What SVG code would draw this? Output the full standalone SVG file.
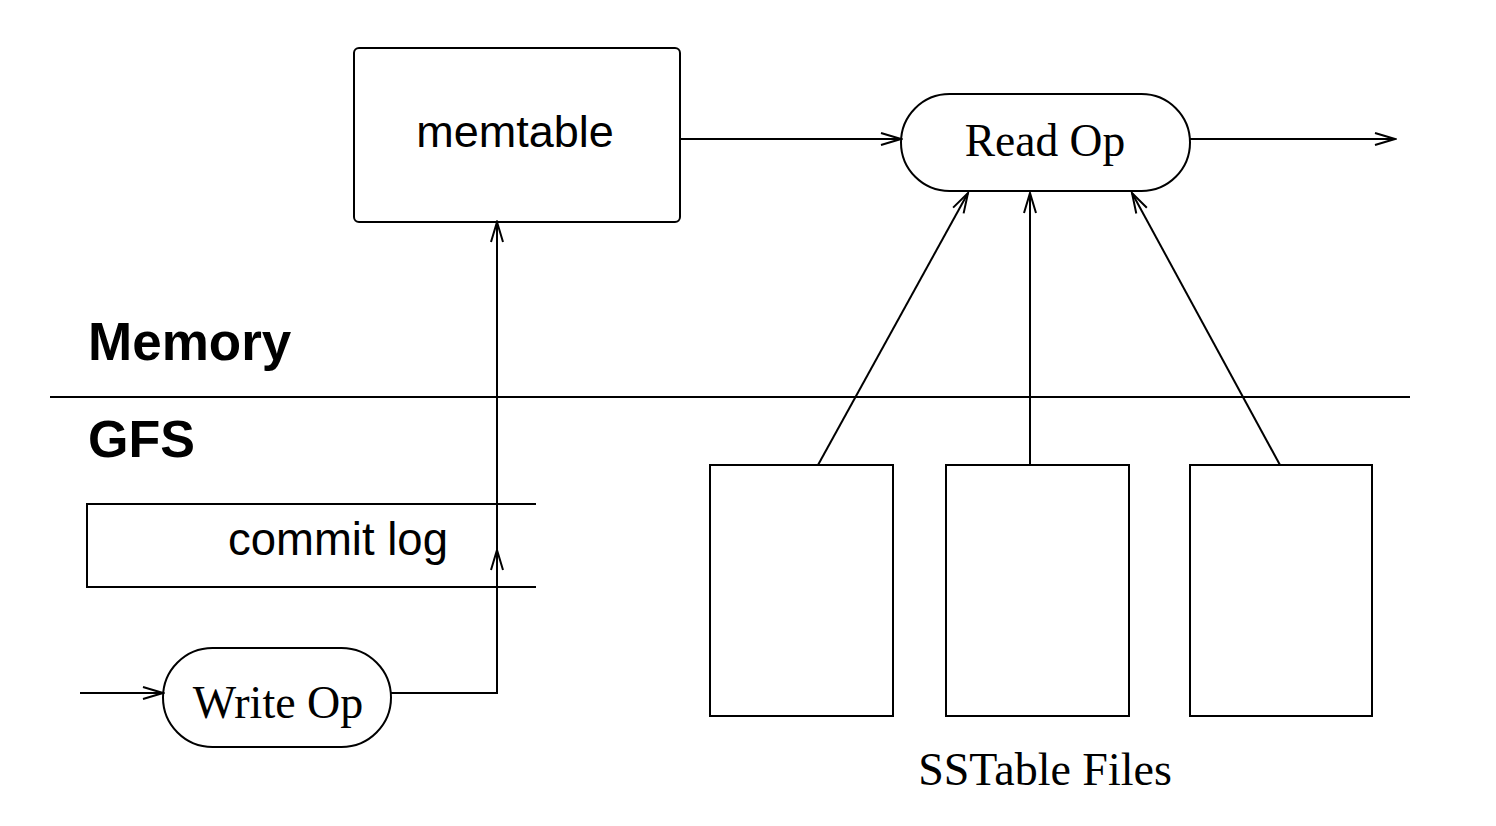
<svg xmlns="http://www.w3.org/2000/svg" width="1496" height="826" viewBox="0 0 1496 826">
<style>
.s{fill:none;stroke:#000;stroke-width:2}
.sans{font-family:"Liberation Sans",Arial,sans-serif;fill:#000}
.serif{font-family:"Liberation Serif","Times New Roman",serif;fill:#000}
</style>
<defs>
<marker id="ah" markerWidth="24" markerHeight="16" refX="22" refY="8" orient="auto" markerUnits="userSpaceOnUse">
<path d="M2,2 L22,8 L2,14" fill="none" stroke="#000" stroke-width="2"/>
</marker>
</defs>
<rect width="1496" height="826" fill="#fff"/>
<g id="memtable"><rect class="s" x="354" y="48" width="326" height="174" rx="5"/><text class="sans" x="515" y="147" font-size="45" text-anchor="middle">memtable</text></g>
<g id="readop"><rect class="s" x="901" y="94" width="289" height="97" rx="48.5"/><text class="serif" x="1045" y="156" font-size="45.5" text-anchor="middle">Read Op</text></g>
<g id="memory-label"><text class="sans" x="88" y="360" font-size="53" font-weight="bold">Memory</text></g>
<g id="gfs-label"><text class="sans" x="88" y="457" font-size="52" font-weight="bold">GFS</text></g>
<g id="divider"><line class="s" x1="50" y1="397" x2="1410" y2="397"/></g>
<g id="commitlog"><path class="s" d="M536,504 H87 V587 H536"/><text class="sans" x="228" y="555" font-size="45.5">commit log</text></g>
<g id="writeop"><rect class="s" x="163" y="648" width="228" height="99" rx="49.5"/><text class="serif" x="278" y="718" font-size="46" text-anchor="middle">Write Op</text></g>
<g id="sstables">
<rect class="s" x="710" y="465" width="183" height="251"/>
<rect class="s" x="946" y="465" width="183" height="251"/>
<rect class="s" x="1190" y="465" width="182" height="251"/>
<text class="serif" x="1045" y="785" font-size="46" text-anchor="middle">SSTable Files</text>
</g>
<g id="connectors">
<line class="s" x1="680" y1="139" x2="901" y2="139" marker-end="url(#ah)"/>
<line class="s" x1="1190" y1="139" x2="1395" y2="139" marker-end="url(#ah)"/>
<line class="s" x1="80" y1="693" x2="163" y2="693" marker-end="url(#ah)"/>
<path class="s" d="M391,693 H497 V550" marker-end="url(#ah)"/>
<line class="s" x1="497" y1="550" x2="497" y2="222" marker-end="url(#ah)"/>
<line class="s" x1="818" y1="465" x2="968" y2="193" marker-end="url(#ah)"/>
<line class="s" x1="1030" y1="465" x2="1030" y2="193" marker-end="url(#ah)"/>
<line class="s" x1="1280" y1="465" x2="1132" y2="193" marker-end="url(#ah)"/>
</g>
</svg>
